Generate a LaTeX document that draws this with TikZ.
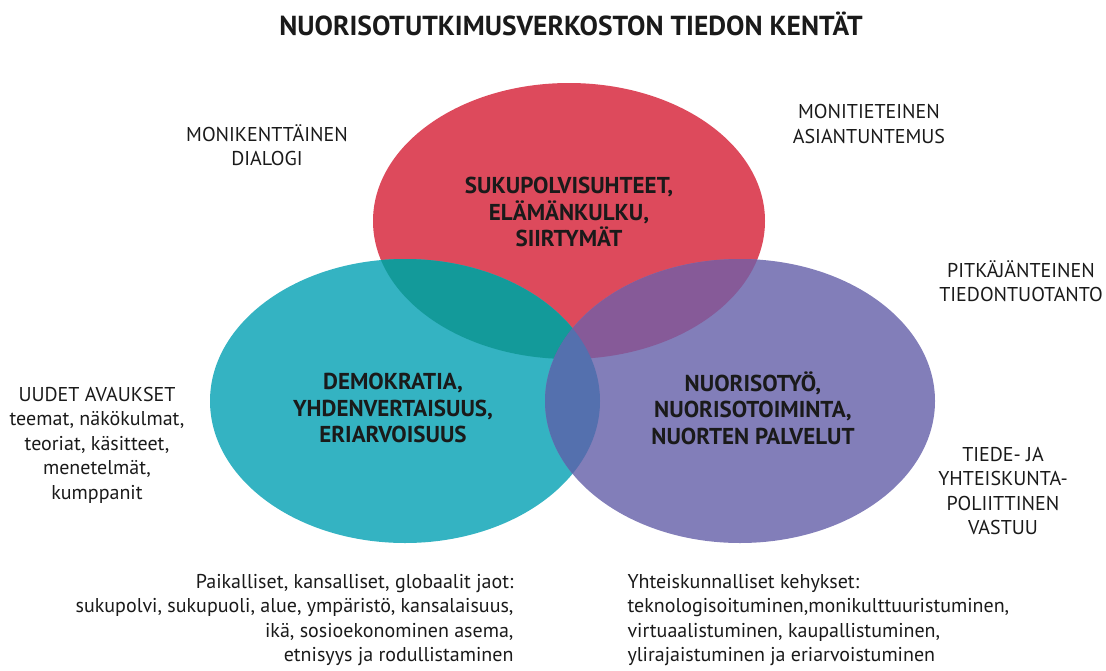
\documentclass[tikz,border=0pt]{standalone}
\usepackage{fontspec}
\setmainfont{PT Sans}
\usetikzlibrary{positioning}
\definecolor{fred}{RGB}{221,74,92}
\definecolor{fteal}{RGB}{52,179,194}
\definecolor{fpurple}{RGB}{130,126,185}
\definecolor{fredteal}{RGB}{19,154,154}
\definecolor{fredpurple}{RGB}{134,90,152}
\definecolor{ftealpurple}{RGB}{84,112,174}
\definecolor{ftext}{RGB}{26,26,26}
\newcommand{\redfield}{(569,221) ellipse [x radius=196, y radius=138]}
\newcommand{\tealfield}{(405,401) ellipse [x radius=195, y radius=142]}
\newcommand{\purplefield}{(740,401) ellipse [x radius=195, y radius=142]}
\tikzset{
      fieldtext/.style={text=ftext, align=center, font=\bfseries\fontsize{23}{26.5}\selectfont},
      sidetext/.style={text=ftext, align=center, font=\fontsize{20}{24.5}\selectfont},
      bottomtext/.style={text=ftext, font=\fontsize{20}{24.5}\selectfont},
}

\begin{document}
\begin{tikzpicture}[x=1pt,y=-1pt]

        \useasboundingbox (0,0) rectangle (1106,670) ;

        \fill[fred] \redfield ;
        \fill[fteal] \tealfield ;
        \fill[fpurple] \purplefield ;

        \begin{scope}
            \clip \redfield ;
            \fill[fredteal] \tealfield ;
            \fill[fredpurple] \purplefield ;
        \end{scope}
        \begin{scope}
            \clip \tealfield ;
            \fill[ftealpurple] \purplefield ;
        \end{scope}

        \node[text=ftext, font=\bfseries\fontsize{27.5}{30}\selectfont](title) at (571,24) {NUORISOTUTKIMUSVERKOSTON TIEDON KENTÄT} ;

        \node[fieldtext](sukupolvi) at (569,212) {SUKUPOLVISUHTEET,\\ELÄMÄNKULKU,\\SIIRTYMÄT} ;
        \node[fieldtext](demokratia) at (393,408) {DEMOKRATIA,\\YHDENVERTAISUUS,\\ERIARVOISUUS} ;
        \node[fieldtext](nuorisotyo) at (753,408) {NUORISOTYÖ,\\NUORISOTOIMINTA,\\NUORTEN PALVELUT} ;

        \node[sidetext](dialogi) at (267,145) {MONIKENTTÄINEN\\DIALOGI} ;
        \node[sidetext](asiantuntemus) at (869,124) {MONITIETEINEN\\ASIANTUNTEMUS} ;
        \node[sidetext](tiedontuotanto) at (1021,281) {PITKÄJÄNTEINEN\\TIEDONTUOTANTO} ;
        \node[sidetext](avaukset) at (97,445) {UUDET AVAUKSET\\teemat, näkökulmat,\\teoriat, käsitteet,\\menetelmät,\\kumppanit} ;
        \node[sidetext](vastuu) at (1003,491) {TIEDE- JA\\YHTEISKUNTA-\\POLIITTINEN\\VASTUU} ;

        \node[bottomtext, align=right, anchor=east](jaot) at (517,620) {Paikalliset, kansalliset, globaalit jaot:\\sukupolvi, sukupuoli, alue, ympäristö, kansalaisuus,\\ikä, sosioekonominen asema,\\etnisyys ja rodullistaminen} ;
        \node[bottomtext, align=left, anchor=west](kehykset) at (624,620) {Yhteiskunnalliset kehykset:\\teknologisoituminen,monikulttuuristuminen,\\virtuaalistuminen, kaupallistuminen,\\ylirajaistuminen ja eriarvoistuminen} ;

    \end{tikzpicture}
\end{document}
